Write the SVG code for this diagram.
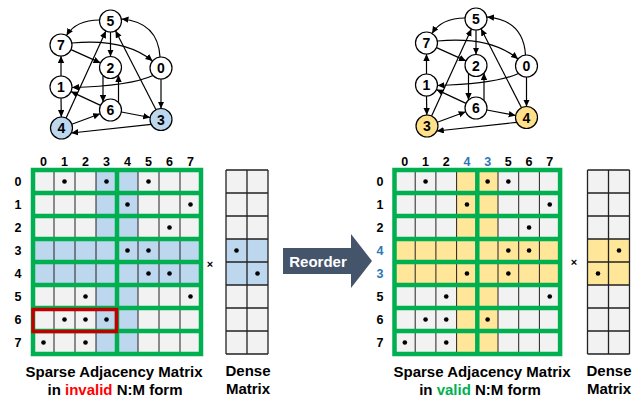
<svg xmlns="http://www.w3.org/2000/svg" width="643" height="399" viewBox="0 0 643 399">
<style>
text{font-family:"Liberation Sans",Arial,sans-serif;font-weight:bold;fill:#000}
.nl{font-size:14px;text-anchor:middle}
.lab{font-size:12.5px;text-anchor:middle}
.cap{font-size:15px;text-anchor:middle}
.nd{fill:#fff;stroke:#000;stroke-width:1.2}
.e{fill:none;stroke:#000;stroke-width:1.2;marker-end:url(#ah)}
.thin{stroke:#222;stroke-width:1;fill:none}
.grn{stroke:#00b050;stroke-width:4.5;fill:none;stroke-linecap:square}
.dot{fill:#000}
.blu{fill:#2e75b6}
</style>
<defs>
<marker id="ah" markerUnits="userSpaceOnUse" markerWidth="8" markerHeight="7" refX="7" refY="3.2" orient="auto">
<path d="M0,0 L7,3.2 L0,6.4 z" fill="#000"/>
</marker>
</defs>

<!-- Left graph connectors -->
<g id="connectors-left">
<path class="e" d="M99.5 20 Q76 20 66.5 35.5"/>
<path class="e" d="M160 57 Q158 22 121.5 19"/>
<path class="e" d="M110.5 32 L110.5 56.5"/>
<path class="e" d="M72 43 Q125 38 152.5 61"/>
<path class="e" d="M71 49.6 L100.5 62.9"/>
<path class="e" d="M153 75.5 Q130 86 72 87.5"/>
<path class="e" d="M61 76 L61 56"/>
<path class="e" d="M61 98 L61.3 117"/>
<path class="e" d="M103 75.5 L103 102"/>
<path class="e" d="M118.5 102.5 L118.5 75"/>
<path class="e" d="M100.5 105.4 L71 91.6"/>
<path class="e" d="M121.3 112 L150.2 117.5"/>
<path class="e" d="M161 79 L161 108.5"/>
<path class="e" d="M156 109.7 L115.5 30.8"/>
<path class="e" d="M66.1 118 L105.9 31"/>
<path class="e" d="M71.8 124.2 L100.2 113.8"/>
<path class="e" d="M151.2 124.3 L71.3 133"/>
</g>
<g id="left-node-5"><circle class="nd" cx="110.5" cy="21" r="11"/><text class="nl" x="110.5" y="26">5</text></g>
<g id="left-node-7"><circle class="nd" cx="61" cy="45" r="11"/><text class="nl" x="61" y="50">7</text></g>
<g id="left-node-2"><circle class="nd" cx="110.5" cy="67.5" r="11"/><text class="nl" x="110.5" y="72.5">2</text></g>
<g id="left-node-0"><circle class="nd" cx="161" cy="68" r="11"/><text class="nl" x="161" y="73">0</text></g>
<g id="left-node-1"><circle class="nd" cx="61" cy="87" r="11"/><text class="nl" x="61" y="92">1</text></g>
<g id="left-node-6"><circle class="nd" cx="110.5" cy="110" r="11"/><text class="nl" x="110.5" y="115">6</text></g>
<g id="left-node-3"><circle class="nd" cx="161" cy="119.5" r="11" style="fill:#bdd7ee"/><text class="nl" x="161" y="124.5">3</text></g>
<g id="left-node-4"><circle class="nd" cx="61.5" cy="128" r="11" style="fill:#bdd7ee"/><text class="nl" x="61.5" y="133">4</text></g>

<!-- Right graph -->
<g transform="translate(365.5,-2)">
<g id="connectors-right">
<path class="e" d="M99.5 20 Q76 20 66.5 35.5"/>
<path class="e" d="M160 57 Q158 22 121.5 19"/>
<path class="e" d="M110.5 32 L110.5 56.5"/>
<path class="e" d="M72 43 Q125 38 152.5 61"/>
<path class="e" d="M71 49.6 L100.5 62.9"/>
<path class="e" d="M153 75.5 Q130 86 72 87.5"/>
<path class="e" d="M61 76 L61 56"/>
<path class="e" d="M61 98 L61.3 117"/>
<path class="e" d="M103 75.5 L103 102"/>
<path class="e" d="M118.5 102.5 L118.5 75"/>
<path class="e" d="M100.5 105.4 L71 91.6"/>
<path class="e" d="M121.3 112 L150.2 117.5"/>
<path class="e" d="M161 79 L161 108.5"/>
<path class="e" d="M156 109.7 L115.5 30.8"/>
<path class="e" d="M66.1 118 L105.9 31"/>
<path class="e" d="M71.8 124.2 L100.2 113.8"/>
<path class="e" d="M151.2 124.3 L71.3 133"/>
</g>
<g id="right-node-5"><circle class="nd" cx="110.5" cy="21" r="11"/><text class="nl" x="110.5" y="26">5</text></g>
<g id="right-node-7"><circle class="nd" cx="61" cy="45" r="11"/><text class="nl" x="61" y="50">7</text></g>
<g id="right-node-2"><circle class="nd" cx="110.5" cy="67.5" r="11"/><text class="nl" x="110.5" y="72.5">2</text></g>
<g id="right-node-0"><circle class="nd" cx="161" cy="68" r="11"/><text class="nl" x="161" y="73">0</text></g>
<g id="right-node-1"><circle class="nd" cx="61" cy="87" r="11"/><text class="nl" x="61" y="92">1</text></g>
<g id="right-node-6"><circle class="nd" cx="110.5" cy="110" r="11"/><text class="nl" x="110.5" y="115">6</text></g>
<g id="right-node-4"><circle class="nd" cx="161" cy="119.5" r="11" style="fill:#ffe08a"/><text class="nl" x="161" y="124.5">4</text></g>
<g id="right-node-3"><circle class="nd" cx="61.5" cy="128" r="11" style="fill:#ffe08a"/><text class="nl" x="61.5" y="133">3</text></g>
</g>

<!-- Left sparse matrix -->
<g id="left-matrix">
<rect x="33" y="170" width="168" height="184" fill="#f2f2f2"/>
<rect x="96" y="170" width="42" height="184" fill="#bdd7ee"/>
<rect x="33" y="239" width="168" height="46" fill="#bdd7ee"/>
<path class="thin" d="M54 170V354M75 170V354M96 170V354M138 170V354M159 170V354M180 170V354"/>
<path class="grn" d="M33 170H201M33 193H201M33 216H201M33 239H201M33 262H201M33 285H201M33 308H201M33 331H201M33 354H201M33 170V354M117 170V354M201 170V354"/>
<g class="dot">
<circle cx="64.5" cy="181.5" r="2.3"/><circle cx="106.5" cy="181.5" r="2.3"/><circle cx="148.5" cy="181.5" r="2.3"/>
<circle cx="127.5" cy="204.5" r="2.3"/><circle cx="190.5" cy="204.5" r="2.3"/>
<circle cx="169.5" cy="227.5" r="2.3"/>
<circle cx="127.5" cy="250.5" r="2.3"/><circle cx="148.5" cy="250.5" r="2.3"/>
<circle cx="148.5" cy="273.5" r="2.3"/><circle cx="169.5" cy="273.5" r="2.3"/>
<circle cx="85.5" cy="296.5" r="2.3"/><circle cx="190.5" cy="296.5" r="2.3"/>
<circle cx="64.5" cy="319.5" r="2.3"/><circle cx="85.5" cy="319.5" r="2.3"/><circle cx="106.5" cy="319.5" r="2.3"/>
<circle cx="43.5" cy="342.5" r="2.3"/><circle cx="85.5" cy="342.5" r="2.3"/>
</g>
<rect x="33" y="309.5" width="83.5" height="22" fill="none" stroke="#c00000" stroke-width="3.5"/>
<g class="lab">
<text x="43.5" y="166">0</text><text x="64.5" y="166">1</text><text x="85.5" y="166">2</text><text x="106.5" y="166">3</text><text x="127.5" y="166">4</text><text x="148.5" y="166">5</text><text x="169.5" y="166">6</text><text x="190.5" y="166">7</text>
<text x="18" y="186">0</text><text x="18" y="209">1</text><text x="18" y="232">2</text><text x="18" y="255">3</text><text x="18" y="278">4</text><text x="18" y="301">5</text><text x="18" y="324">6</text><text x="18" y="347">7</text>
</g>
</g>

<!-- Left dense matrix -->
<g id="left-dense">
<rect x="226" y="170" width="42" height="184" fill="#f2f2f2"/>
<rect x="226" y="239" width="42" height="46" fill="#bdd7ee"/>
<path stroke="#222" stroke-width="1.3" fill="none" d="M226 170H268M226 193H268M226 216H268M226 239H268M226 262H268M226 285H268M226 308H268M226 331H268M226 354H268M226 170V354M247 170V354M268 170V354"/>
<circle class="dot" cx="236.5" cy="250.5" r="2.3"/><circle class="dot" cx="257.5" cy="273.5" r="2.3"/>
</g>
<text x="210" y="268" style="font-size:11px" text-anchor="middle">×</text>

<!-- Reorder arrow -->
<g id="reorder-arrow">
<polygon points="283,248 351,248 351,234 372,261 351,288 351,274 283,274" fill="#44546a"/>
<text x="318" y="267" class="cap" style="fill:#fff">Reorder</text>
</g>

<!-- Right sparse matrix -->
<g id="right-matrix">
<rect x="394.5" y="170" width="165.6" height="184" fill="#f2f2f2"/>
<rect x="456.6" y="170" width="41.4" height="184" fill="#ffe699"/>
<rect x="394.5" y="239" width="165.6" height="46" fill="#ffe699"/>
<path class="thin" d="M415.2 170V354M435.9 170V354M456.6 170V354M498 170V354M518.7 170V354M539.4 170V354"/>
<path class="grn" d="M394.5 170H560.1M394.5 193H560.1M394.5 216H560.1M394.5 239H560.1M394.5 262H560.1M394.5 285H560.1M394.5 308H560.1M394.5 331H560.1M394.5 354H560.1M394.5 170V354M477.3 170V354M560.1 170V354"/>
<g class="dot">
<circle cx="425.55" cy="181.5" r="2.3"/><circle cx="487.65" cy="181.5" r="2.3"/><circle cx="508.35" cy="181.5" r="2.3"/>
<circle cx="466.95" cy="204.5" r="2.3"/><circle cx="549.75" cy="204.5" r="2.3"/>
<circle cx="529.05" cy="227.5" r="2.3"/>
<circle cx="508.35" cy="250.5" r="2.3"/><circle cx="529.05" cy="250.5" r="2.3"/>
<circle cx="466.95" cy="273.5" r="2.3"/><circle cx="508.35" cy="273.5" r="2.3"/>
<circle cx="446.25" cy="296.5" r="2.3"/><circle cx="549.75" cy="296.5" r="2.3"/>
<circle cx="425.55" cy="319.5" r="2.3"/><circle cx="446.25" cy="319.5" r="2.3"/><circle cx="487.65" cy="319.5" r="2.3"/>
<circle cx="404.85" cy="342.5" r="2.3"/><circle cx="446.25" cy="342.5" r="2.3"/>
</g>
<g class="lab">
<text x="404.85" y="166">0</text><text x="425.55" y="166">1</text><text x="446.25" y="166">2</text><text x="466.95" y="166" class="blu">4</text><text x="487.65" y="166" class="blu">3</text><text x="508.35" y="166">5</text><text x="529.05" y="166">6</text><text x="549.75" y="166">7</text>
<text x="380" y="186">0</text><text x="380" y="209">1</text><text x="380" y="232">2</text><text x="380" y="255" class="blu">4</text><text x="380" y="278" class="blu">3</text><text x="380" y="301">5</text><text x="380" y="324">6</text><text x="380" y="347">7</text>
</g>
</g>

<!-- Right dense matrix -->
<g id="right-dense">
<rect x="587.5" y="170" width="42" height="184" fill="#f2f2f2"/>
<rect x="587.5" y="239" width="42" height="46" fill="#ffe699"/>
<path stroke="#222" stroke-width="1.3" fill="none" d="M587.5 170H629.5M587.5 193H629.5M587.5 216H629.5M587.5 239H629.5M587.5 262H629.5M587.5 285H629.5M587.5 308H629.5M587.5 331H629.5M587.5 354H629.5M587.5 170V354M608.5 170V354M629.5 170V354"/>
<circle class="dot" cx="619" cy="250.5" r="2.3"/><circle class="dot" cx="598" cy="273.5" r="2.3"/>
</g>
<text x="574" y="266" style="font-size:11px" text-anchor="middle">×</text>

<!-- Captions -->
<text class="cap" x="114" y="377">Sparse Adjacency Matrix</text>
<text class="cap" x="115" y="395">in <tspan fill="#ff0000">invalid</tspan> N:M form</text>
<text class="cap" x="248" y="376">Dense</text>
<text class="cap" x="248" y="394">Matrix</text>
<text class="cap" x="482" y="377">Sparse Adjacency Matrix</text>
<text class="cap" x="480" y="395">in <tspan fill="#00b050">valid</tspan> N:M form</text>
<text class="cap" x="609" y="376">Dense</text>
<text class="cap" x="609" y="394">Matrix</text>
</svg>
